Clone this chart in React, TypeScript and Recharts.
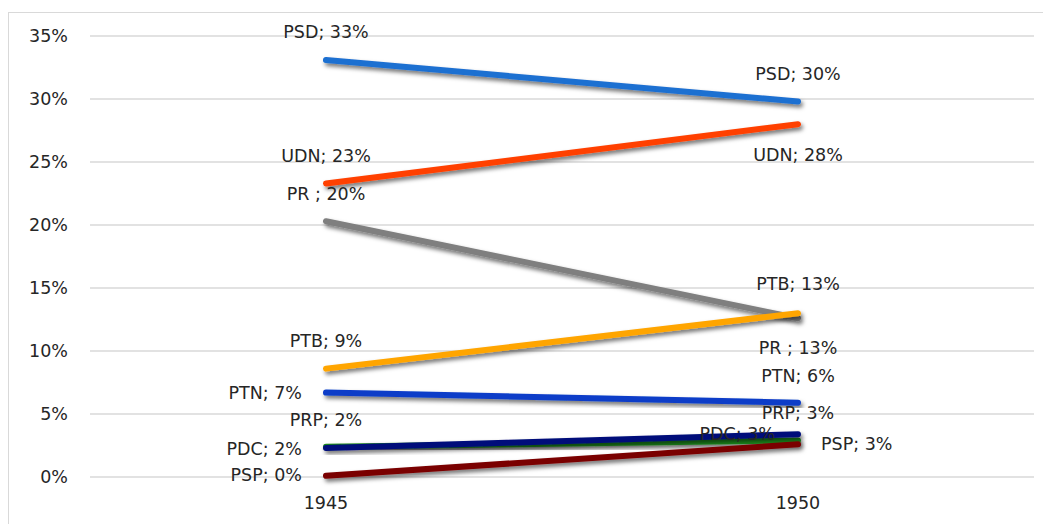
import React from 'react';
import { LineChart, Line, XAxis, YAxis, CartesianGrid } from 'recharts';

const years = ['1945', '1950'];
const psd = [33.1, 29.8];
const udn = [23.3, 28.0];
const pr = [20.3, 12.6];
const ptb = [8.6, 13.0];
const ptn = [6.7, 5.9];
const prp = [2.4, 2.9];
const pdc = [2.3, 3.4];
const psp = [0.1, 2.6];
const yTicks = [0, 5, 10, 15, 20, 25, 30, 35];

type Anchor = 'start' | 'middle' | 'end';
type Pos = [number, number, Anchor];

const series: { key: string; name: string; values: number[]; color: string; pos: Pos[] }[] = [
  { key: 'psd', name: 'PSD', values: psd, color: '#1F6FD1', pos: [[0, -28, 'middle'], [0, -28, 'middle']] },
  { key: 'udn', name: 'UDN', values: udn, color: '#FF4000', pos: [[0, -27, 'middle'], [0, 31, 'middle']] },
  { key: 'pr', name: 'PR ', values: pr, color: '#7F7F7F', pos: [[0, -27, 'middle'], [0, 30, 'middle']] },
  { key: 'ptb', name: 'PTB', values: ptb, color: '#FFA500', pos: [[0, -28, 'middle'], [0, -29, 'middle']] },
  { key: 'ptn', name: 'PTN', values: ptn, color: '#0A3CC8', pos: [[-24, 0, 'end'], [0, -27, 'middle']] },
  { key: 'prp', name: 'PRP', values: prp, color: '#1E8C1E', pos: [[0, -27, 'middle'], [0, -27, 'middle']] },
  { key: 'pdc', name: 'PDC', values: pdc, color: '#00107A', pos: [[-24, 1, 'end'], [-23, 0, 'end']] },
  { key: 'psp', name: 'PSP', values: psp, color: '#7A0000', pos: [[-24, -1, 'end'], [23, 0, 'start']] },
];

const data = years.map((year, i) => {
  const row: Record<string, string | number> = { year };
  series.forEach((s) => {
    row[s.key] = s.values[i];
  });
  return row;
});

const font = '"DejaVu Sans", Verdana, sans-serif';
const textColor = '#262626';

const makeLabel = (name: string, pos: Pos[]) => (props: any) => {
  const { x, y, index, value } = props;
  const p = pos[index];
  if (!p) return null;
  return (
    <text
      x={x + p[0]}
      y={y + p[1]}
      textAnchor={p[2]}
      dominantBaseline="central"
      fontFamily={font}
      fontSize={17.5}
      fill={textColor}
    >
      {`${name}; ${Math.round(value)}%`}
    </text>
  );
};

export default function App() {
  return (
    <div
      style={{
        marginTop: 4,
        width: 1043,
        height: 520,
        borderTop: '1px solid #d9d9d9',
        borderLeft: '1px solid #d9d9d9',
        boxSizing: 'border-box',
        overflow: 'hidden',
      }}
    >
      <LineChart width={1035} height={512} data={data} margin={{ top: 23, right: 10, bottom: 0, left: 0 }}>
        <defs>
          <filter id="shadow" x="-10%" y="-50%" width="120%" height="200%">
            <feDropShadow dx="2" dy="3" stdDeviation="2" floodColor="#000" floodOpacity="0.55" />
          </filter>
        </defs>
        <CartesianGrid vertical={false} stroke="#d9d9d9" strokeWidth={1.5} />
        <XAxis
          dataKey="year"
          axisLine={false}
          tickLine={false}
          tickSize={0}
          tickMargin={20}
          height={48}
          padding={{ left: 236, right: 236 }}
          tick={{ fontFamily: font, fontSize: 17.5, fill: textColor }}
        />
        <YAxis
          domain={[0, 35]}
          ticks={yTicks}
          width={81}
          axisLine={false}
          tickLine={false}
          tickSize={0}
          tickMargin={22}
          tickFormatter={(v: number) => `${v}%`}
          tick={{ fontFamily: font, fontSize: 17.5, fill: textColor }}
        />
        {series.map((s) => (
          <Line
            key={s.key}
            dataKey={s.key}
            name={s.name}
            type="linear"
            stroke={s.color}
            strokeWidth={6}
            strokeLinecap="round"
            dot={false}
            activeDot={false}
            filter="url(#shadow)"
            isAnimationActive={false}
            label={makeLabel(s.name, s.pos)}
          />
        ))}
      </LineChart>
    </div>
  );
}
